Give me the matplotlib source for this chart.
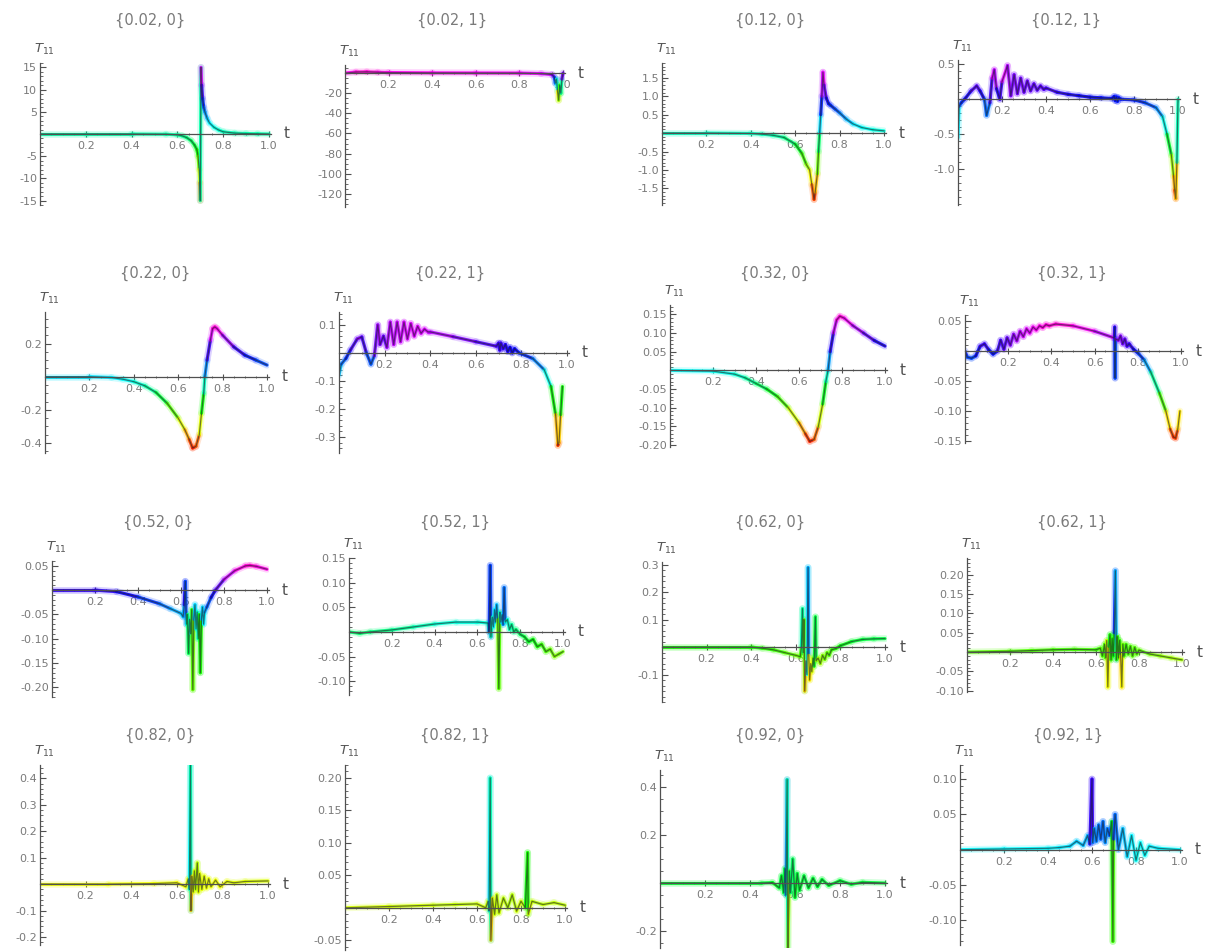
import numpy as np
import matplotlib.pyplot as plt
from matplotlib.collections import LineCollection
from matplotlib.ticker import MultipleLocator

# panel titles, row by row
titles = ['{0.02, 0}', '{0.02, 1}', '{0.12, 0}', '{0.12, 1}',
          '{0.22, 0}', '{0.22, 1}', '{0.32, 0}', '{0.32, 1}',
          '{0.52, 0}', '{0.52, 1}', '{0.62, 0}', '{0.62, 1}',
          '{0.82, 0}', '{0.82, 1}', '{0.92, 0}', '{0.92, 1}']

# T11(t), one pair of lists per panel
t_002_0 = [0.0, 0.2, 0.4, 0.55, 0.6, 0.62, 0.64, 0.66, 0.675, 0.685, 0.69, 0.695, 0.698, 0.700,
           0.703, 0.706, 0.71, 0.715, 0.72, 0.73, 0.74, 0.76, 0.78, 0.80, 0.85, 0.9, 0.95, 1.0]
y_002_0 = [0.0, 0.0, 0.0, -0.05, -0.2, -0.4, -0.8, -1.5, -2.5, -3.5, -5, -8, -11, -15,
           15, 11, 8, 6, 5, 3.5, 2.5, 1.5, 0.9, 0.5, 0.2, 0.1, 0.05, 0.0]

t_002_1 = [0.0, 0.05, 0.1, 0.15, 0.2, 0.4, 0.6, 0.8, 0.9, 0.95, 0.96, 0.965, 0.97, 0.975,
           0.98, 0.985, 0.99, 0.995, 1.0]
y_002_1 = [0.0, 1.0, 1.2, 0.8, 0.5, 0.2, 0.1, 0.0, -0.5, -1.5, -4, -10, -6, -18,
           -27, -12, -20, -6, 0.0]

t_012_0 = [0.0, 0.2, 0.4, 0.45, 0.5, 0.55, 0.6, 0.63, 0.65, 0.665, 0.675, 0.685, 0.69, 0.70,
           0.705, 0.71, 0.715, 0.72, 0.725, 0.73, 0.74, 0.75, 0.76, 0.78, 0.80, 0.83, 0.86,
           0.9, 0.95, 1.0]
y_012_0 = [0.0, 0.0, -0.01, -0.03, -0.06, -0.12, -0.3, -0.55, -0.85, -1.0, -1.4, -1.8, -1.6,
           -1.1, -0.5, 0.0, 0.5, 1.0, 1.65, 1.3, 0.95, 0.8, 0.75, 0.65, 0.55, 0.38, 0.25,
           0.15, 0.09, 0.06]

t_012_1 = [0.0, 0.005, 0.015, 0.03, 0.06, 0.085, 0.1, 0.12, 0.13, 0.145, 0.155, 0.165, 0.175,
           0.19, 0.2, 0.225, 0.24, 0.255, 0.27, 0.285, 0.3, 0.315, 0.33, 0.345, 0.36, 0.375,
           0.39, 0.40, 0.45, 0.5, 0.55, 0.6, 0.65, 0.7, 0.71, 0.715, 0.72, 0.725, 0.73, 0.74,
           0.8, 0.85, 0.9, 0.93, 0.95, 0.97, 0.98, 0.985, 0.99, 0.995, 1.0]
y_012_1 = [-0.55, -0.1, -0.05, 0.0, 0.12, 0.19, 0.12, 0.0, -0.23, -0.05, 0.3, 0.42, 0.15,
           0.0, 0.25, 0.48, 0.05, 0.35, 0.08, 0.3, 0.1, 0.26, 0.12, 0.22, 0.13, 0.19,
           0.14, 0.16, 0.1, 0.07, 0.05, 0.03, 0.02, 0.01, 0.04, -0.02, 0.03, -0.03, 0.02, 0.0,
           -0.01, -0.05, -0.12, -0.25, -0.5, -0.8, -1.1, -1.3, -1.42, -0.9, 0.0]

t_022_0 = [0.0, 0.2, 0.3, 0.35, 0.4, 0.45, 0.5, 0.55, 0.6, 0.63, 0.65, 0.665, 0.68, 0.695,
           0.705, 0.715, 0.72, 0.73, 0.745, 0.755, 0.765, 0.775, 0.8, 0.85, 0.9, 0.95, 1.0]
y_022_0 = [0.0, 0.0, -0.005, -0.015, -0.03, -0.055, -0.095, -0.16, -0.25, -0.32, -0.38,
           -0.43, -0.42, -0.35, -0.22, -0.1, 0.0, 0.1, 0.22, 0.29, 0.3, 0.29, 0.25, 0.18,
           0.13, 0.1, 0.07]

t_022_1 = [0.0, 0.01, 0.03, 0.05, 0.08, 0.1, 0.12, 0.14, 0.155, 0.17, 0.18, 0.195, 0.21,
           0.225, 0.24, 0.255, 0.27, 0.285, 0.3, 0.315, 0.33, 0.345, 0.36, 0.375, 0.39, 0.4,
           0.5, 0.6, 0.69, 0.7, 0.705, 0.71, 0.72, 0.73, 0.74, 0.75, 0.76, 0.77, 0.79, 0.85,
           0.9, 0.93, 0.95, 0.96, 0.965, 0.972, 0.98]
y_022_1 = [-0.08, -0.04, -0.02, 0.01, 0.05, 0.057, 0.0, -0.04, -0.01, 0.1, 0.03, 0.06, 0.02,
           0.11, 0.03, 0.11, 0.04, 0.11, 0.05, 0.105, 0.06, 0.095, 0.07, 0.085, 0.075, 0.075,
           0.058, 0.04, 0.024, 0.035, 0.01, 0.035, 0.015, 0.03, 0.005, 0.02, 0.0, 0.015, 0.0,
           -0.02, -0.06, -0.12, -0.22, -0.33, -0.32, -0.22, -0.12]

t_032_0 = [0.0, 0.2, 0.3, 0.35, 0.4, 0.45, 0.5, 0.55, 0.6, 0.63, 0.65, 0.67, 0.69, 0.71,
           0.725, 0.735, 0.745, 0.76, 0.775, 0.79, 0.81, 0.85, 0.9, 0.95, 1.0]
y_032_0 = [0.0, -0.002, -0.01, -0.02, -0.035, -0.05, -0.07, -0.1, -0.14, -0.17, -0.19,
           -0.185, -0.15, -0.09, -0.03, 0.0, 0.05, 0.1, 0.135, 0.145, 0.14, 0.12, 0.1,
           0.08, 0.065]

t_032_1 = [0.0, 0.01, 0.03, 0.05, 0.07, 0.09, 0.11, 0.13, 0.15, 0.165, 0.18, 0.195, 0.21,
           0.225, 0.24, 0.255, 0.27, 0.285, 0.3, 0.315, 0.33, 0.345, 0.36, 0.375, 0.39, 0.42,
           0.5, 0.6, 0.69, 0.693, 0.695, 0.697, 0.71, 0.72, 0.73, 0.74, 0.75, 0.76, 0.78, 0.8,
           0.83, 0.86, 0.9, 0.93, 0.95, 0.965, 0.975, 0.985, 0.995]
y_032_1 = [0.0, -0.01, -0.012, -0.008, 0.008, 0.012, 0.002, -0.005, 0.0, 0.018, 0.003, 0.022,
           0.01, 0.028, 0.017, 0.033, 0.024, 0.037, 0.03, 0.04, 0.035, 0.042, 0.039, 0.044,
           0.042, 0.045, 0.042, 0.033, 0.022, 0.04, -0.045, 0.02, 0.018, 0.025, 0.012, 0.02,
           0.008, 0.012, 0.003, -0.003, -0.015, -0.035, -0.07, -0.1, -0.13, -0.143, -0.145,
           -0.13, -0.1]

t_052_0 = [0.0, 0.2, 0.3, 0.4, 0.5, 0.55, 0.6, 0.61, 0.615, 0.62, 0.625, 0.63, 0.635, 0.64,
           0.645, 0.65, 0.655, 0.66, 0.665, 0.67, 0.675, 0.68, 0.685, 0.69, 0.695, 0.7, 0.705,
           0.71, 0.72, 0.74, 0.76, 0.8, 0.85, 0.9, 0.92, 0.95, 1.0]
y_052_0 = [0.0, 0.0, -0.003, -0.014, -0.028, -0.038, -0.048, -0.055, -0.03, 0.018, -0.07,
           -0.05, -0.13, -0.06, -0.09, -0.04, -0.205, -0.06, -0.03, -0.08, -0.045, -0.1,
           -0.05, -0.17, -0.06, -0.035, -0.07, -0.045, -0.035, -0.015, 0.0, 0.022, 0.04,
           0.05, 0.051, 0.049, 0.043]

t_052_1 = [0.0, 0.05, 0.1, 0.2, 0.3, 0.4, 0.5, 0.6, 0.65, 0.655, 0.66, 0.663, 0.67, 0.675,
           0.68, 0.685, 0.69, 0.695, 0.70, 0.705, 0.71, 0.715, 0.72, 0.725, 0.73, 0.74, 0.75,
           0.76, 0.77, 0.78, 0.8, 0.82, 0.84, 0.86, 0.88, 0.9, 0.92, 0.94, 0.96, 0.98, 1.0]
y_052_1 = [0.0, -0.003, 0.0, 0.004, 0.01, 0.016, 0.02, 0.02, 0.018, 0.0, 0.135, -0.01, 0.03,
           0.01, 0.045, 0.02, 0.055, 0.025, -0.115, 0.04, 0.02, 0.035, 0.015, 0.09, 0.02,
           0.025, 0.005, 0.015, 0.0, 0.005, -0.005, -0.01, -0.02, -0.015, -0.03, -0.025,
           -0.04, -0.035, -0.05, -0.045, -0.04]

t_062_0 = [0.0, 0.4, 0.45, 0.5, 0.55, 0.6, 0.62, 0.625, 0.63, 0.633, 0.637, 0.64, 0.645,
           0.65, 0.655, 0.658, 0.662, 0.667, 0.672, 0.677, 0.682, 0.688, 0.691, 0.7, 0.71,
           0.72, 0.73, 0.74, 0.75, 0.76, 0.78, 0.8, 0.85, 0.9, 0.95, 1.0]
y_062_0 = [0.0, 0.0, -0.004, -0.01, -0.02, -0.03, -0.035, 0.0, 0.14, -0.02, 0.1, -0.16,
           -0.05, -0.1, 0.29, -0.03, -0.12, -0.06, -0.09, -0.04, -0.07, 0.11, -0.05, -0.04,
           -0.06, -0.03, -0.045, -0.02, -0.03, -0.01, -0.005, 0.005, 0.02, 0.028, 0.03, 0.031]

t_062_1 = [0.0, 0.2, 0.3, 0.4, 0.5, 0.6, 0.62, 0.63, 0.64, 0.645, 0.65, 0.655, 0.66, 0.665,
           0.67, 0.675, 0.68, 0.685, 0.69, 0.695, 0.7, 0.705, 0.71, 0.715, 0.72, 0.725, 0.73,
           0.74, 0.75, 0.76, 0.77, 0.78, 0.79, 0.8, 0.85, 0.9, 0.95, 1.0]
y_062_1 = [0.0, 0.002, 0.004, 0.006, 0.007, 0.006, 0.01, -0.01, 0.02, -0.015, 0.03, -0.09,
           0.015, 0.045, -0.02, 0.035, -0.01, 0.05, 0.21, -0.02, 0.04, -0.015, 0.03, -0.01,
           -0.09, 0.02, -0.01, 0.02, -0.005, 0.015, -0.01, 0.012, -0.005, 0.005, -0.005,
           -0.01, -0.015, -0.02]

t_082_0 = [0.0, 0.3, 0.5, 0.6, 0.64, 0.65, 0.655, 0.66, 0.662, 0.667, 0.672, 0.677, 0.682,
           0.69, 0.695, 0.7, 0.71, 0.72, 0.73, 0.74, 0.75, 0.77, 0.79, 0.82, 0.85, 0.9, 1.0]
y_082_0 = [0.0, 0.0, 0.002, 0.005, -0.01, 0.02, -0.02, 0.45, -0.1, 0.03, -0.03, 0.05, -0.02,
           0.08, -0.03, 0.04, -0.02, 0.03, -0.015, 0.02, -0.01, 0.015, -0.01, 0.01, 0.005,
           0.01, 0.012]

t_082_1 = [0.0, 0.2, 0.4, 0.5, 0.6, 0.64, 0.65, 0.655, 0.66, 0.663, 0.67, 0.68, 0.69, 0.7,
           0.72, 0.74, 0.76, 0.78, 0.8, 0.82, 0.83, 0.833, 0.85, 0.9, 0.95, 1.0]
y_082_1 = [0.0, 0.002, 0.004, 0.005, 0.006, 0.0, 0.01, -0.005, 0.2, -0.05, 0.015, -0.01,
           0.02, -0.008, 0.015, 0.0, 0.02, -0.005, 0.01, 0.0, 0.085, -0.01, 0.01, 0.005,
           0.008, 0.004]

t_092_0 = [0.0, 0.45, 0.5, 0.53, 0.54, 0.55, 0.555, 0.56, 0.565, 0.568, 0.575, 0.58, 0.59,
           0.6, 0.61, 0.62, 0.64, 0.66, 0.68, 0.7, 0.72, 0.75, 0.8, 0.85, 0.9, 1.0]
y_092_0 = [0.0, 0.0, 0.002, -0.02, 0.03, -0.04, 0.06, -0.05, 0.43, -0.3, 0.05, -0.04, 0.1,
           -0.06, 0.04, -0.03, 0.03, -0.02, 0.02, -0.015, 0.015, -0.01, 0.01, -0.005, 0.003,
           0.0]

t_092_1 = [0.0, 0.2, 0.4, 0.45, 0.5, 0.53, 0.56, 0.58, 0.59, 0.6, 0.603, 0.61, 0.62, 0.63,
           0.64, 0.65, 0.66, 0.67, 0.68, 0.69, 0.695, 0.698, 0.705, 0.72, 0.74, 0.76, 0.78,
           0.8, 0.82, 0.84, 0.86, 0.9, 1.0]
y_092_1 = [0.0, 0.001, 0.002, 0.003, 0.005, 0.012, 0.006, 0.02, 0.008, 0.1, 0.01, 0.03,
           0.012, 0.035, 0.015, 0.04, 0.01, 0.03, 0.02, 0.04, -0.13, 0.015, 0.05, 0.0, 0.03,
           -0.01, 0.02, -0.015, 0.01, -0.008, 0.005, 0.002, 0.0]

ts = [t_002_0, t_002_1, t_012_0, t_012_1, t_022_0, t_022_1, t_032_0, t_032_1,
      t_052_0, t_052_1, t_062_0, t_062_1, t_082_0, t_082_1, t_092_0, t_092_1]
ys = [y_002_0, y_002_1, y_012_0, y_012_1, y_022_0, y_022_1, y_032_0, y_032_1,
      y_052_0, y_052_1, y_062_0, y_062_1, y_082_0, y_082_1, y_092_0, y_092_1]

# y tick values and y ranges per panel
yticks = [[-15, -10, -5, 5, 10, 15], [-120, -100, -80, -60, -40, -20],
          [-1.5, -1.0, -0.5, 0.5, 1.0, 1.5], [-1.0, -0.5, 0.5],
          [-0.4, -0.2, 0.2], [-0.3, -0.2, -0.1, 0.1],
          [-0.2, -0.15, -0.1, -0.05, 0.05, 0.1, 0.15], [-0.15, -0.1, -0.05, 0.05],
          [-0.2, -0.15, -0.1, -0.05, 0.05], [-0.1, -0.05, 0.05, 0.1, 0.15],
          [-0.1, 0.1, 0.2, 0.3], [-0.1, -0.05, 0.05, 0.1, 0.15, 0.2],
          [-0.2, -0.1, 0.1, 0.2, 0.3, 0.4], [-0.05, 0.05, 0.1, 0.15, 0.2],
          [-0.2, 0.2, 0.4], [-0.1, -0.05, 0.05, 0.1]]
yfmt = ['%d', '%d', '%.1f', '%.1f', '%.1f', '%.1f', '%.2f', '%.2f',
        '%.2f', '%.2f', '%.1f', '%.2f', '%.1f', '%.2f', '%.1f', '%.2f']
yranges = [(-16, 16), (-133, 8), (-1.95, 1.9), (-1.51, 0.56),
           (-0.46, 0.39), (-0.357, 0.146), (-0.205, 0.175), (-0.153, 0.06),
           (-0.22, 0.06), (-0.128, 0.15), (-0.2, 0.31), (-0.103, 0.243),
           (-0.23, 0.45), (-0.065, 0.22), (-0.27, 0.47), (-0.135, 0.12)]
xticks = [0.2, 0.4, 0.6, 0.8, 1.0]

# layout in pixels: y-axis x, x of t=1, top px, bottom px
W, H = 1208, 952
boxes = [(40, 269, 63, 205), (345, 563, 65, 207), (662, 884, 63, 205), (958, 1178, 60, 205),
         (45, 267, 312, 453), (339, 567, 312, 453), (670, 885, 305, 447), (965, 1181, 315, 443),
         (52, 267, 561, 697), (349, 563, 558, 695), (662, 885, 562, 702), (967, 1182, 558, 692),
         (40, 268, 765, 945), (345, 565, 765, 950), (660, 885, 770, 948), (960, 1180, 765, 945)]
minors = [1, 5, 0.1, 0.1, 0.05, 0.02, 0.01, 0.01, 0.01, 0.01, 0.02, 0.01, 0.02, 0.01, 0.05, 0.01]
title_x = [150, 452, 770, 1066, 155, 450, 775, 1072, 158, 455, 770, 1072, 160, 455, 770, 1068]
title_y = [20, 20, 20, 20, 273, 273, 273, 273, 522, 522, 522, 522, 735, 735, 735, 735]

XMAX = 1.01
axcol = '#505050'
txtcol = '#7a7a7a'

fig = plt.figure(figsize=(W / 100, H / 100), dpi=100)

for i in range(16):
    x0, x1, ytop, ybot = boxes[i]
    xr = x0 + XMAX * (x1 - x0)
    ax = fig.add_axes([x0 / W, 1 - ybot / H, (xr - x0) / W, (ybot - ytop) / H])
    ax.patch.set_alpha(0)
    ax.set_xlim(0, XMAX)
    ax.set_ylim(*yranges[i])

    t = np.asarray(ts[i], dtype=float)
    y = np.asarray(ys[i], dtype=float)
    pts = np.column_stack([t, y])
    segs = np.stack([pts[:-1], pts[1:]], axis=1)
    mid = (y[:-1] + y[1:]) / 2
    nv = (mid - y.min()) / (y.max() - y.min())
    cols = plt.cm.hsv(0.02 + 0.86 * nv)
    ax.add_collection(LineCollection(segs, colors=cols, linewidths=5, alpha=0.18,
                                     capstyle='round', zorder=2))
    ax.add_collection(LineCollection(segs, colors=cols, linewidths=2.3, alpha=0.9,
                                     capstyle='round', zorder=3))
    ax.plot(t, y, color='#202028', lw=0.9, alpha=0.6, zorder=4)

    for s in ['top', 'right']:
        ax.spines[s].set_visible(False)
    ax.spines['left'].set_position(('data', 0))
    ax.spines['bottom'].set_position(('data', 0))
    for s in ['left', 'bottom']:
        ax.spines[s].set_color(axcol)
        ax.spines[s].set_linewidth(0.9)
        ax.spines[s].set_zorder(5)

    ax.set_xticks(xticks)
    ax.set_xticklabels(['%.1f' % v for v in xticks])
    ax.xaxis.set_minor_locator(MultipleLocator(0.05))
    ax.set_yticks(yticks[i])
    ax.set_yticklabels([yfmt[i] % v for v in yticks[i]])
    ax.yaxis.set_minor_locator(MultipleLocator(minors[i]))
    ax.tick_params(axis='both', which='both', color=axcol, labelcolor=txtcol, labelsize=8)
    ax.tick_params(axis='y', which='major', direction='in', length=4, width=0.8, pad=2)
    ax.tick_params(axis='y', which='minor', direction='in', length=2, width=0.6)
    ax.tick_params(axis='x', which='major', direction='inout', length=4, width=0.8, pad=3)
    ax.tick_params(axis='x', which='minor', direction='inout', length=2, width=0.6)

    ax.annotate('t', xy=(XMAX, 0), xycoords='data', xytext=(12, 0),
                textcoords='offset pixels', ha='left', va='center', fontsize=11, color='#505050')
    ax.annotate(r'$T_{11}$', xy=(0, yranges[i][1]), xycoords='data', xytext=(4, 6),
                textcoords='offset pixels', ha='center', va='bottom', fontsize=9.5, color='#555555')

    fig.text(title_x[i] / W, 1 - title_y[i] / H, titles[i], ha='center', va='center',
             fontsize=10.5, color=txtcol)

fig.savefig('out.png', dpi=100)
